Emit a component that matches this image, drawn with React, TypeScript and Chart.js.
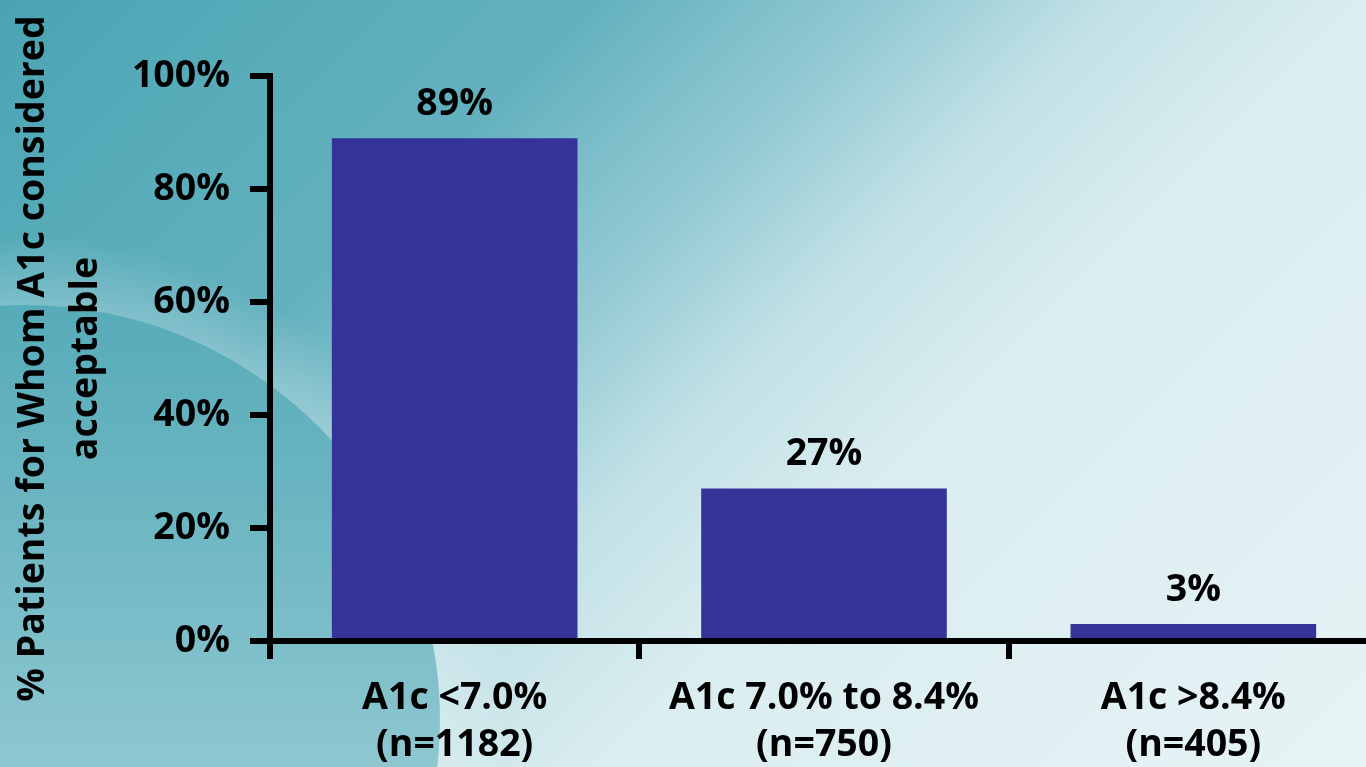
import React, { useEffect, useRef } from 'react';
import { Chart, registerables } from 'chart.js';

Chart.register(...registerables);

// A1c target groups, each label split over two lines
const categories: string[][] = [
  ['A1c <7.0%', '(n=1182)'],
  ['A1c 7.0% to 8.4%', '(n=750)'],
  ['A1c >8.4%', '(n=405)'],
];

// Share of patients for whom the A1c level was considered acceptable (%)
const acceptablePct: number[] = [89, 27, 3];

// Value axis
const yMin = 0;
const yMax = 100;
const yStep = 20;
const yTitle: string[] = ['% Patients for Whom A1c considered', 'acceptable'];

const FONT = '"Open Sans", "DejaVu Sans", sans-serif';
const FONT_SIZE = 37.5;
const BAR_COLOR = '#353399';
const INK = '#000000';

// Painted backdrop: diagonal teal wash with a soft disc in the lower left corner
const backdropPlugin = {
  id: 'backdrop',
  beforeDraw(chart: Chart) {
    const { ctx } = chart;
    const h = 767;
    ctx.save();
    const g = ctx.createLinearGradient(150, -150, 1216, 917);
    g.addColorStop(0, '#4AA3B2');
    g.addColorStop(0.12, '#56ABB9');
    g.addColorStop(0.28, '#63B1BE');
    g.addColorStop(0.42, '#94CAD3');
    g.addColorStop(0.52, '#C1E1E6');
    g.addColorStop(0.64, '#DAEDF0');
    g.addColorStop(1, '#E6F3F5');
    ctx.fillStyle = g;
    ctx.fillRect(0, 0, chart.width, h);

    const cx = 25;
    const cy = 720;
    const r = 415;
    // light halo around the disc
    const halo = ctx.createRadialGradient(cx, cy, r, cx, cy, r + 70);
    halo.addColorStop(0, 'rgba(255,255,255,0.22)');
    halo.addColorStop(1, 'rgba(255,255,255,0)');
    ctx.fillStyle = halo;
    ctx.beginPath();
    ctx.arc(cx, cy, r + 70, 0, Math.PI * 2);
    ctx.fill();

    // the disc itself
    const fill = ctx.createLinearGradient(0, cy - r, 0, h);
    fill.addColorStop(0, '#57ABB8');
    fill.addColorStop(0.45, '#6CB6C2');
    fill.addColorStop(1, '#8EC7D0');
    ctx.fillStyle = fill;
    ctx.beginPath();
    ctx.arc(cx, cy, r, 0, Math.PI * 2);
    ctx.fill();
    ctx.restore();
  },
};

// Percent labels above each bar
const valueLabelPlugin = {
  id: 'valueLabels',
  afterDatasetsDraw(chart: Chart) {
    const { ctx } = chart;
    const meta = chart.getDatasetMeta(0);
    const values = chart.data.datasets[0].data as number[];
    ctx.save();
    ctx.font = `bold ${FONT_SIZE}px ${FONT}`;
    ctx.fillStyle = INK;
    ctx.textAlign = 'center';
    ctx.textBaseline = 'alphabetic';
    meta.data.forEach((bar: any, i: number) => {
      ctx.fillText(`${values[i]}%`, bar.x, bar.y - 23);
    });
    ctx.restore();
  },
};

export default function App() {
  const canvasRef = useRef<HTMLCanvasElement | null>(null);

  useEffect(() => {
    if (!canvasRef.current) return;
    const chart = new Chart(canvasRef.current, {
      type: 'bar',
      data: {
        labels: categories,
        datasets: [
          {
            data: acceptablePct,
            backgroundColor: BAR_COLOR,
            borderWidth: 0,
            categoryPercentage: 1,
            barPercentage: 0.665,
          },
        ],
      },
      options: {
        responsive: false,
        animation: false,
        layout: { padding: { top: 76, left: 0, right: 0, bottom: 0 } },
        plugins: {
          legend: { display: false },
          tooltip: { enabled: false },
        },
        scales: {
          x: {
            offset: true,
            border: { display: true, color: INK, width: 6 },
            grid: {
              offset: true,
              drawOnChartArea: false,
              drawTicks: true,
              tickLength: 18,
              color: INK,
              lineWidth: 6,
            },
            ticks: {
              color: INK,
              padding: 16,
              maxRotation: 0,
              autoSkip: false,
              font: { family: FONT, size: FONT_SIZE, weight: 'bold', lineHeight: 1.25 },
            },
            afterFit(scale: any) {
              scale.height = 126;
            },
          },
          y: {
            min: yMin,
            max: yMax,
            border: { display: true, color: INK, width: 6 },
            grid: {
              drawOnChartArea: false,
              drawTicks: true,
              tickLength: 20,
              color: INK,
              lineWidth: 6,
            },
            ticks: {
              stepSize: yStep,
              color: INK,
              padding: 20,
              font: { family: FONT, size: FONT_SIZE, weight: 'bold' },
              callback: (v: any) => `${v}%`,
            },
            title: {
              display: true,
              text: yTitle,
              color: INK,
              padding: { top: 7, bottom: 0 },
              font: { family: FONT, size: FONT_SIZE, weight: 'bold', lineHeight: 1.41 },
            },
            afterFit(scale: any) {
              scale.width = 270;
            },
          },
        },
      },
      plugins: [backdropPlugin, valueLabelPlugin],
    });
    return () => chart.destroy();
  }, []);

  return (
    <div
      style={{
        position: 'fixed',
        left: 0,
        top: 0,
        width: 1366,
        height: 767,
        overflow: 'hidden',
        background: '#E6F3F5',
      }}
    >
      <canvas ref={canvasRef} width={1378} height={767} style={{ display: 'block' }} />
    </div>
  );
}
